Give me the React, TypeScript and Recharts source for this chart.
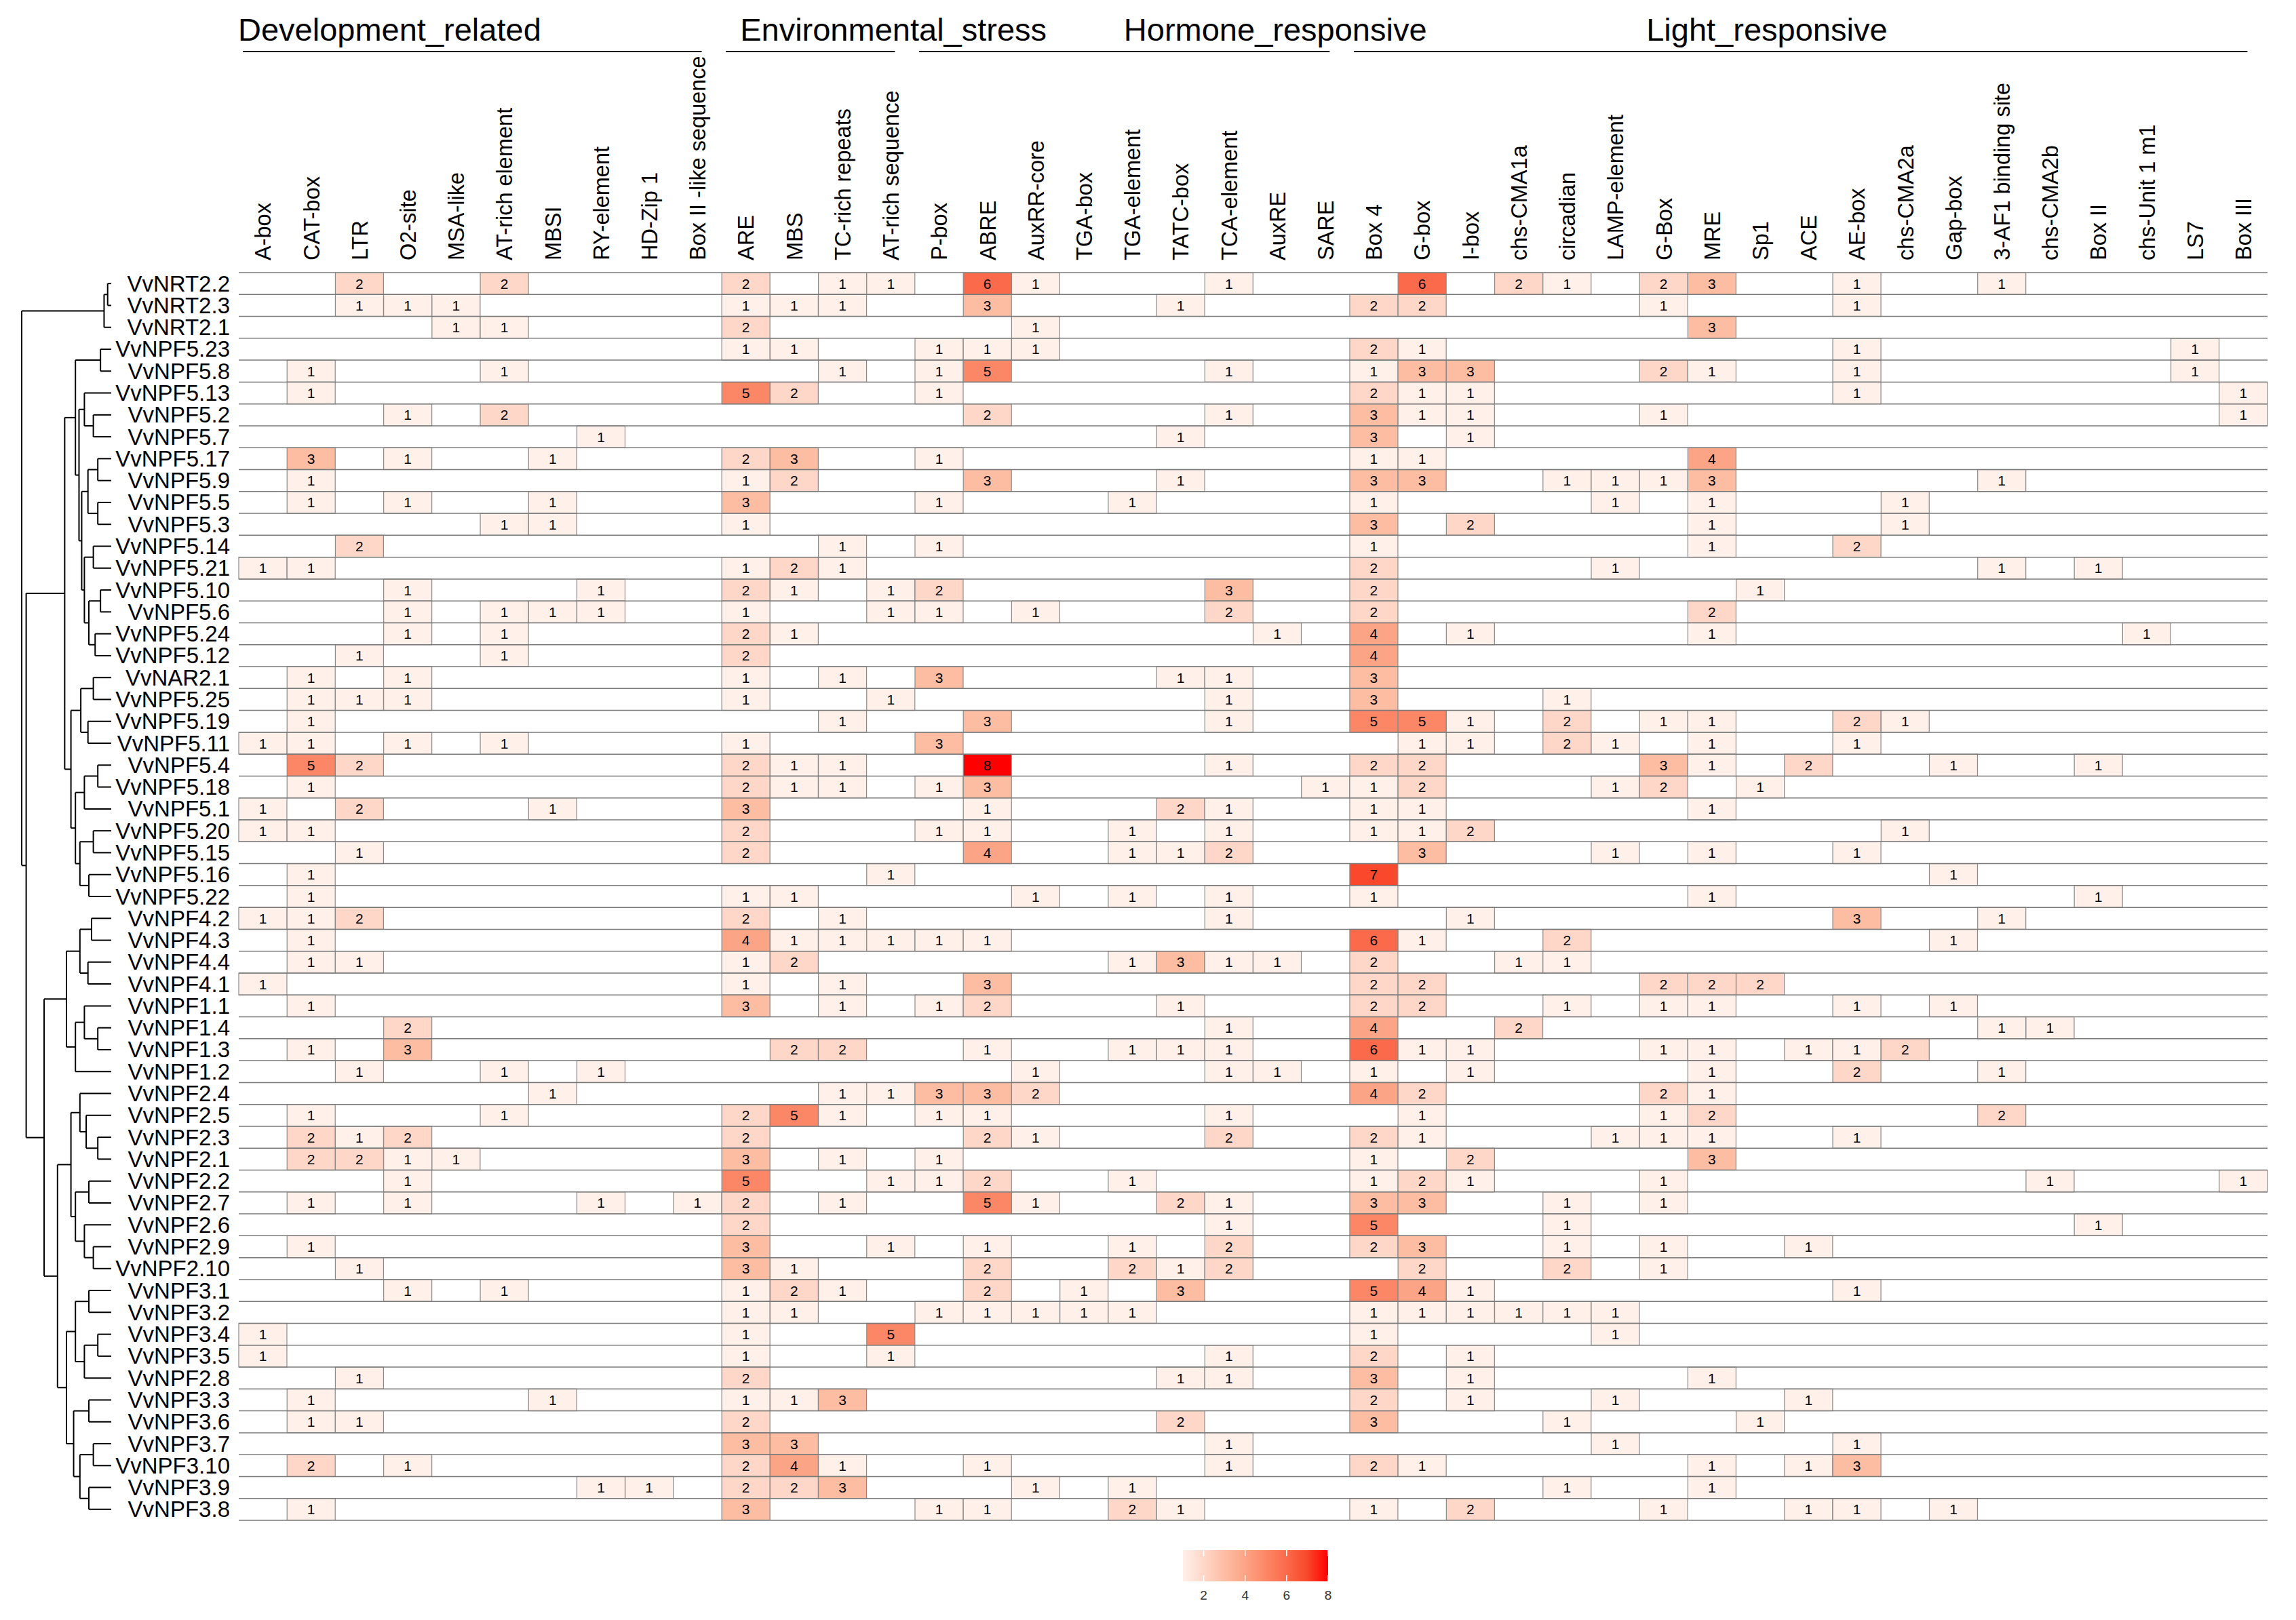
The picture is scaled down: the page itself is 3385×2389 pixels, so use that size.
import React from 'react';
import { BarChart, Bar, XAxis, YAxis, ReferenceLine, Legend, ComposedChart, Scatter } from 'recharts';

const columns = ['A-box', 'CAT-box', 'LTR', 'O2-site', 'MSA-like', 'AT-rich element', 'MBSI', 'RY-element', 'HD-Zip 1', 'Box II -like sequence', 'ARE', 'MBS', 'TC-rich repeats', 'AT-rich sequence', 'P-box', 'ABRE', 'AuxRR-core', 'TGA-box', 'TGA-element', 'TATC-box', 'TCA-element', 'AuxRE', 'SARE', 'Box 4', 'G-box', 'I-box', 'chs-CMA1a', 'circadian', 'LAMP-element', 'G-Box', 'MRE', 'Sp1', 'ACE', 'AE-box', 'chs-CMA2a', 'Gap-box', '3-AF1 binding site', 'chs-CMA2b', 'Box II', 'chs-Unit 1 m1', 'LS7', 'Box III'];

const rows = ['VvNRT2.2', 'VvNRT2.3', 'VvNRT2.1', 'VvNPF5.23', 'VvNPF5.8', 'VvNPF5.13', 'VvNPF5.2', 'VvNPF5.7', 'VvNPF5.17', 'VvNPF5.9', 'VvNPF5.5', 'VvNPF5.3', 'VvNPF5.14', 'VvNPF5.21', 'VvNPF5.10', 'VvNPF5.6', 'VvNPF5.24', 'VvNPF5.12', 'VvNAR2.1', 'VvNPF5.25', 'VvNPF5.19', 'VvNPF5.11', 'VvNPF5.4', 'VvNPF5.18', 'VvNPF5.1', 'VvNPF5.20', 'VvNPF5.15', 'VvNPF5.16', 'VvNPF5.22', 'VvNPF4.2', 'VvNPF4.3', 'VvNPF4.4', 'VvNPF4.1', 'VvNPF1.1', 'VvNPF1.4', 'VvNPF1.3', 'VvNPF1.2', 'VvNPF2.4', 'VvNPF2.5', 'VvNPF2.3', 'VvNPF2.1', 'VvNPF2.2', 'VvNPF2.7', 'VvNPF2.6', 'VvNPF2.9', 'VvNPF2.10', 'VvNPF3.1', 'VvNPF3.2', 'VvNPF3.4', 'VvNPF3.5', 'VvNPF2.8', 'VvNPF3.3', 'VvNPF3.6', 'VvNPF3.7', 'VvNPF3.10', 'VvNPF3.9', 'VvNPF3.8'];

// counts[row][column]
const counts = [
  [0,0,2,0,0,2,0,0,0,0, 2,0,1,1,0,6,1,0,0,0, 1,0,0,0,6,0,2,1,0,2, 3,0,0,1,0,0,1,0,0,0, 0,0],
  [0,0,1,1,1,0,0,0,0,0, 1,1,1,0,0,3,0,0,0,1, 0,0,0,2,2,0,0,0,0,1, 0,0,0,1,0,0,0,0,0,0, 0,0],
  [0,0,0,0,1,1,0,0,0,0, 2,0,0,0,0,0,1,0,0,0, 0,0,0,0,0,0,0,0,0,0, 3,0,0,0,0,0,0,0,0,0, 0,0],
  [0,0,0,0,0,0,0,0,0,0, 1,1,0,0,1,1,1,0,0,0, 0,0,0,2,1,0,0,0,0,0, 0,0,0,1,0,0,0,0,0,0, 1,0],
  [0,1,0,0,0,1,0,0,0,0, 0,0,1,0,1,5,0,0,0,0, 1,0,0,1,3,3,0,0,0,2, 1,0,0,1,0,0,0,0,0,0, 1,0],
  [0,1,0,0,0,0,0,0,0,0, 5,2,0,0,1,0,0,0,0,0, 0,0,0,2,1,1,0,0,0,0, 0,0,0,1,0,0,0,0,0,0, 0,1],
  [0,0,0,1,0,2,0,0,0,0, 0,0,0,0,0,2,0,0,0,0, 1,0,0,3,1,1,0,0,0,1, 0,0,0,0,0,0,0,0,0,0, 0,1],
  [0,0,0,0,0,0,0,1,0,0, 0,0,0,0,0,0,0,0,0,1, 0,0,0,3,0,1,0,0,0,0, 0,0,0,0,0,0,0,0,0,0, 0,0],
  [0,3,0,1,0,0,1,0,0,0, 2,3,0,0,1,0,0,0,0,0, 0,0,0,1,1,0,0,0,0,0, 4,0,0,0,0,0,0,0,0,0, 0,0],
  [0,1,0,0,0,0,0,0,0,0, 1,2,0,0,0,3,0,0,0,1, 0,0,0,3,3,0,0,1,1,1, 3,0,0,0,0,0,1,0,0,0, 0,0],
  [0,1,0,1,0,0,1,0,0,0, 3,0,0,0,1,0,0,0,1,0, 0,0,0,1,0,0,0,0,1,0, 1,0,0,0,1,0,0,0,0,0, 0,0],
  [0,0,0,0,0,1,1,0,0,0, 1,0,0,0,0,0,0,0,0,0, 0,0,0,3,0,2,0,0,0,0, 1,0,0,0,1,0,0,0,0,0, 0,0],
  [0,0,2,0,0,0,0,0,0,0, 0,0,1,0,1,0,0,0,0,0, 0,0,0,1,0,0,0,0,0,0, 1,0,0,2,0,0,0,0,0,0, 0,0],
  [1,1,0,0,0,0,0,0,0,0, 1,2,1,0,0,0,0,0,0,0, 0,0,0,2,0,0,0,0,1,0, 0,0,0,0,0,0,1,0,1,0, 0,0],
  [0,0,0,1,0,0,0,1,0,0, 2,1,0,1,2,0,0,0,0,0, 3,0,0,2,0,0,0,0,0,0, 0,1,0,0,0,0,0,0,0,0, 0,0],
  [0,0,0,1,0,1,1,1,0,0, 1,0,0,1,1,0,1,0,0,0, 2,0,0,2,0,0,0,0,0,0, 2,0,0,0,0,0,0,0,0,0, 0,0],
  [0,0,0,1,0,1,0,0,0,0, 2,1,0,0,0,0,0,0,0,0, 0,1,0,4,0,1,0,0,0,0, 1,0,0,0,0,0,0,0,0,1, 0,0],
  [0,0,1,0,0,1,0,0,0,0, 2,0,0,0,0,0,0,0,0,0, 0,0,0,4,0,0,0,0,0,0, 0,0,0,0,0,0,0,0,0,0, 0,0],
  [0,1,0,1,0,0,0,0,0,0, 1,0,1,0,3,0,0,0,0,1, 1,0,0,3,0,0,0,0,0,0, 0,0,0,0,0,0,0,0,0,0, 0,0],
  [0,1,1,1,0,0,0,0,0,0, 1,0,0,1,0,0,0,0,0,0, 1,0,0,3,0,0,0,1,0,0, 0,0,0,0,0,0,0,0,0,0, 0,0],
  [0,1,0,0,0,0,0,0,0,0, 0,0,1,0,0,3,0,0,0,0, 1,0,0,5,5,1,0,2,0,1, 1,0,0,2,1,0,0,0,0,0, 0,0],
  [1,1,0,1,0,1,0,0,0,0, 1,0,0,0,3,0,0,0,0,0, 0,0,0,0,1,1,0,2,1,0, 1,0,0,1,0,0,0,0,0,0, 0,0],
  [0,5,2,0,0,0,0,0,0,0, 2,1,1,0,0,8,0,0,0,0, 1,0,0,2,2,0,0,0,0,3, 1,0,2,0,0,1,0,0,1,0, 0,0],
  [0,1,0,0,0,0,0,0,0,0, 2,1,1,0,1,3,0,0,0,0, 0,0,1,1,2,0,0,0,1,2, 0,1,0,0,0,0,0,0,0,0, 0,0],
  [1,0,2,0,0,0,1,0,0,0, 3,0,0,0,0,1,0,0,0,2, 1,0,0,1,1,0,0,0,0,0, 1,0,0,0,0,0,0,0,0,0, 0,0],
  [1,1,0,0,0,0,0,0,0,0, 2,0,0,0,1,1,0,0,1,0, 1,0,0,1,1,2,0,0,0,0, 0,0,0,0,1,0,0,0,0,0, 0,0],
  [0,0,1,0,0,0,0,0,0,0, 2,0,0,0,0,4,0,0,1,1, 2,0,0,0,3,0,0,0,1,0, 1,0,0,1,0,0,0,0,0,0, 0,0],
  [0,1,0,0,0,0,0,0,0,0, 0,0,0,1,0,0,0,0,0,0, 0,0,0,7,0,0,0,0,0,0, 0,0,0,0,0,1,0,0,0,0, 0,0],
  [0,1,0,0,0,0,0,0,0,0, 1,1,0,0,0,0,1,0,1,0, 1,0,0,1,0,0,0,0,0,0, 1,0,0,0,0,0,0,0,1,0, 0,0],
  [1,1,2,0,0,0,0,0,0,0, 2,0,1,0,0,0,0,0,0,0, 1,0,0,0,0,1,0,0,0,0, 0,0,0,3,0,0,1,0,0,0, 0,0],
  [0,1,0,0,0,0,0,0,0,0, 4,1,1,1,1,1,0,0,0,0, 0,0,0,6,1,0,0,2,0,0, 0,0,0,0,0,1,0,0,0,0, 0,0],
  [0,1,1,0,0,0,0,0,0,0, 1,2,0,0,0,0,0,0,1,3, 1,1,0,2,0,0,1,1,0,0, 0,0,0,0,0,0,0,0,0,0, 0,0],
  [1,0,0,0,0,0,0,0,0,0, 1,0,1,0,0,3,0,0,0,0, 0,0,0,2,2,0,0,0,0,2, 2,2,0,0,0,0,0,0,0,0, 0,0],
  [0,1,0,0,0,0,0,0,0,0, 3,0,1,0,1,2,0,0,0,1, 0,0,0,2,2,0,0,1,0,1, 1,0,0,1,0,1,0,0,0,0, 0,0],
  [0,0,0,2,0,0,0,0,0,0, 0,0,0,0,0,0,0,0,0,0, 1,0,0,4,0,0,2,0,0,0, 0,0,0,0,0,0,1,1,0,0, 0,0],
  [0,1,0,3,0,0,0,0,0,0, 0,2,2,0,0,1,0,0,1,1, 1,0,0,6,1,1,0,0,0,1, 1,0,1,1,2,0,0,0,0,0, 0,0],
  [0,0,1,0,0,1,0,1,0,0, 0,0,0,0,0,0,1,0,0,0, 1,1,0,1,0,1,0,0,0,0, 1,0,0,2,0,0,1,0,0,0, 0,0],
  [0,0,0,0,0,0,1,0,0,0, 0,0,1,1,3,3,2,0,0,0, 0,0,0,4,2,0,0,0,0,2, 1,0,0,0,0,0,0,0,0,0, 0,0],
  [0,1,0,0,0,1,0,0,0,0, 2,5,1,0,1,1,0,0,0,0, 1,0,0,0,1,0,0,0,0,1, 2,0,0,0,0,0,2,0,0,0, 0,0],
  [0,2,1,2,0,0,0,0,0,0, 2,0,0,0,0,2,1,0,0,0, 2,0,0,2,1,0,0,0,1,1, 1,0,0,1,0,0,0,0,0,0, 0,0],
  [0,2,2,1,1,0,0,0,0,0, 3,0,1,0,1,0,0,0,0,0, 0,0,0,1,0,2,0,0,0,0, 3,0,0,0,0,0,0,0,0,0, 0,0],
  [0,0,0,1,0,0,0,0,0,0, 5,0,0,1,1,2,0,0,1,0, 0,0,0,1,2,1,0,0,0,1, 0,0,0,0,0,0,0,1,0,0, 0,1],
  [0,1,0,1,0,0,0,1,0,1, 2,0,1,0,0,5,1,0,0,2, 1,0,0,3,3,0,0,1,0,1, 0,0,0,0,0,0,0,0,0,0, 0,0],
  [0,0,0,0,0,0,0,0,0,0, 2,0,0,0,0,0,0,0,0,0, 1,0,0,5,0,0,0,1,0,0, 0,0,0,0,0,0,0,0,1,0, 0,0],
  [0,1,0,0,0,0,0,0,0,0, 3,0,0,1,0,1,0,0,1,0, 2,0,0,2,3,0,0,1,0,1, 0,0,1,0,0,0,0,0,0,0, 0,0],
  [0,0,1,0,0,0,0,0,0,0, 3,1,0,0,0,2,0,0,2,1, 2,0,0,0,2,0,0,2,0,1, 0,0,0,0,0,0,0,0,0,0, 0,0],
  [0,0,0,1,0,1,0,0,0,0, 1,2,1,0,0,2,0,1,0,3, 0,0,0,5,4,1,0,0,0,0, 0,0,0,1,0,0,0,0,0,0, 0,0],
  [0,0,0,0,0,0,0,0,0,0, 1,1,0,0,1,1,1,1,1,0, 0,0,0,1,1,1,1,1,1,0, 0,0,0,0,0,0,0,0,0,0, 0,0],
  [1,0,0,0,0,0,0,0,0,0, 1,0,0,5,0,0,0,0,0,0, 0,0,0,1,0,0,0,0,1,0, 0,0,0,0,0,0,0,0,0,0, 0,0],
  [1,0,0,0,0,0,0,0,0,0, 1,0,0,1,0,0,0,0,0,0, 1,0,0,2,0,1,0,0,0,0, 0,0,0,0,0,0,0,0,0,0, 0,0],
  [0,0,1,0,0,0,0,0,0,0, 2,0,0,0,0,0,0,0,0,1, 1,0,0,3,0,1,0,0,0,0, 1,0,0,0,0,0,0,0,0,0, 0,0],
  [0,1,0,0,0,0,1,0,0,0, 1,1,3,0,0,0,0,0,0,0, 0,0,0,2,0,1,0,0,1,0, 0,0,1,0,0,0,0,0,0,0, 0,0],
  [0,1,1,0,0,0,0,0,0,0, 2,0,0,0,0,0,0,0,0,2, 0,0,0,3,0,0,0,1,0,0, 0,1,0,0,0,0,0,0,0,0, 0,0],
  [0,0,0,0,0,0,0,0,0,0, 3,3,0,0,0,0,0,0,0,0, 1,0,0,0,0,0,0,0,1,0, 0,0,0,1,0,0,0,0,0,0, 0,0],
  [0,2,0,1,0,0,0,0,0,0, 2,4,1,0,0,1,0,0,0,0, 1,0,0,2,1,0,0,0,0,0, 1,0,1,3,0,0,0,0,0,0, 0,0],
  [0,0,0,0,0,0,0,1,1,0, 2,2,3,0,0,0,1,0,1,0, 0,0,0,0,0,0,0,1,0,0, 1,0,0,0,0,0,0,0,0,0, 0,0],
  [0,1,0,0,0,0,0,0,0,0, 3,0,0,0,1,1,0,0,2,1, 0,0,0,1,0,2,0,0,0,1, 0,0,1,1,0,1,0,0,0,0, 0,0],
];

const groups = [
  { name: 'Development_related', from: 'A-box', to: 'Box II -like sequence', labelAt: 'A-box' },
  { name: 'Environmental_stress', from: 'ARE', to: 'AT-rich sequence', labelAt: 'ARE' },
  { name: 'Hormone_responsive', from: 'P-box', to: 'SARE', labelAt: 'TGA-element' },
  { name: 'Light_responsive', from: 'Box 4', to: 'Box III', labelAt: 'G-Box' },
];
// horizontal nudge (px) of each group title from the left edge of its labelAt column
const titleNudge: Record<string, number> = { Development_related: -1, Environmental_stress: 27, Hormone_responsive: 23, Light_responsive: 10 };

// colour of each count value 1..8
const palette = ['#fff0ea', '#fed7c8', '#fdbda3', '#fca486', '#fc8766', '#fb6a4a', '#f9482b', '#ff0000'];
const legendTicks = [2, 4, 6, 8];

// dendrogram: [height, left, right], leaves are row indices
const tree: any = [1.0,
  [0.08, [0.04, 0, 1], 2],
  [0.95,
    [0.52,
      [0.4, [0.12, 3, 4], [0.36, [0.3, 5, [0.2, 6, 7]], [0.33, [0.26, [0.15, 8, 9], [0.15, 10, 11]], [0.3, [0.2, 12, 13], [0.25, [0.12, 14, 15], [0.18, 16, 17]]]]]],
      [0.45, [0.34, [0.2, 18, 19], [0.26, 20, 21]], [0.4, [0.3, [0.15, 22, 23], 24], [0.35, [0.2, 25, 26], [0.25, 27, 28]]]]],
    [0.75,
      [0.5, [0.35, [0.22, 29, 30], [0.26, 31, 32]], [0.4, [0.3, 33, [0.15, 34, 35]], 36]],
      [0.6, [0.45, [0.35, 37, [0.28, 38, [0.15, 39, 40]]], [0.4, [0.25, 41, 42], [0.3, 43, [0.2, 44, 45]]]],
        [0.5, [0.4, [0.25, 46, 47], [0.3, [0.15, 48, 49], 50]], [0.42, [0.25, 51, 52], [0.35, [0.2, 53, 54], [0.25, 55, 56]]]]]]]];

const FONT = '"Liberation Sans", Arial, Helvetica, sans-serif';
const W = 3385;
const H = 2389;
const M = { top: 82, right: 42, bottom: 147, left: 12 };
const XAXIS_H = 320;
const YAXIS_W = 340;
const PLOT_W = W - M.left - M.right - YAXIS_W;
const BW = PLOT_W / columns.length;

const colorOf = (v: number) => palette[Math.max(1, Math.min(8, v)) - 1];

const table = columns.map((c, j) => {
  const o: any = { col: c };
  rows.forEach((_, i) => {
    o['r' + i] = 1;
    o['v' + i] = counts[i][j];
  });
  return o;
});

function treeSegments(node: any, out: any[]): { h: number; y: number } {
  if (typeof node === 'number') return { h: 0, y: node + 0.5 };
  const [h, l, r] = node;
  const a = treeSegments(l, out);
  const b = treeSegments(r, out);
  out.push({ x1: h, y1: a.y, x2: h, y2: b.y });
  out.push({ x1: h, y1: a.y, x2: a.h, y2: a.y });
  out.push({ x1: h, y1: b.y, x2: b.h, y2: b.y });
  return { h, y: (a.y + b.y) / 2 };
}
const segments: any[] = [];
treeSegments(tree, segments);
const leaves = rows.map((r, i) => ({ h: 0, y: i + 0.5, name: r }));

function ColumnTick(props: any) {
  const { x, y, payload } = props;
  const name = payload.value;
  const idx = columns.indexOf(name);
  const g = groups.find((gr) => gr.from === name);
  let header = null;
  if (g) {
    const toIdx = columns.indexOf(g.to);
    const labIdx = columns.indexOf(g.labelAt);
    const left = x - BW / 2;
    header = (
      <g>
        <line x1={left + 6} x2={x + (toIdx - idx) * BW + 6} y1={76} y2={76} stroke="#000" strokeWidth={2} />
        <text x={left + (labIdx - idx) * BW + titleNudge[g.name]} y={60} fontSize={47} fontFamily={FONT} fill="#000">{g.name}</text>
      </g>
    );
  }
  return (
    <g>
      {header}
      <text transform={`translate(${x},${y}) rotate(-90)`} dy="0.36em" textAnchor="start" fontSize={32.5} fontFamily={FONT} fill="#000">{name}</text>
    </g>
  );
}

function RowTick(props: any) {
  const { x, y, payload } = props;
  const i = Math.round(payload.value - 0.5);
  return (
    <text x={x} y={y} textAnchor="end" dominantBaseline="central" fontSize={33} fontFamily={FONT} fill="#000">{rows[i]}</text>
  );
}

function makeShape(i: number) {
  return (p: any) => {
    const v = p.payload ? p.payload['v' + i] : 0;
    if (!v) return <g />;
    const y0 = Math.min(p.y, p.y + p.height);
    const h = Math.abs(p.height);
    return (
      <g>
        <rect x={p.x} y={y0} width={p.width} height={h} fill={colorOf(v)} stroke="#8a8a8a" strokeWidth={1.2} />
        <text x={p.x + p.width / 2} y={y0 + h / 2} textAnchor="middle" dominantBaseline="central" fontSize={21} fontFamily={FONT} fill="#000">{v}</text>
      </g>
    );
  };
}

function ColorBar() {
  const x0 = 44;
  const w = 214;
  const y0 = 24;
  const bh = 46;
  const pos = (v: number) => x0 + ((v - 1) / 7) * w;
  return (
    <svg width={320} height={110} style={{ overflow: 'visible' }}>
      <defs>
        <linearGradient id="cbar" x1="0" x2="1" y1="0" y2="0">
          {palette.map((c, k) => (
            <stop key={k} offset={`${(k / 7) * 100}%`} stopColor={c} />
          ))}
        </linearGradient>
      </defs>
      <rect x={x0} y={y0} width={w} height={bh} fill="url(#cbar)" />
      {legendTicks.map((t) => (
        <g key={t}>
          <line x1={pos(t)} x2={pos(t)} y1={y0} y2={y0 + 9} stroke="#fff" strokeWidth={1.5} />
          <line x1={pos(t)} x2={pos(t)} y1={y0 + bh - 9} y2={y0 + bh} stroke="#fff" strokeWidth={1.5} />
          <text x={pos(t)} y={y0 + bh + 20} textAnchor="middle" dominantBaseline="central" fontSize={19} fontFamily={FONT} fill="#333">{t}</text>
        </g>
      ))}
    </svg>
  );
}

export default function App() {
  const rowTicks = rows.map((_, i) => i + 0.5);
  const boundaries = rows.map((_, i) => i).concat([rows.length]);
  return (
    <div style={{ position: 'absolute', left: 0, top: 0, width: W, height: H, background: '#fff', fontFamily: FONT }}>
      <div style={{ position: 'absolute', left: 0, top: 0 }}>
        <BarChart width={W} height={H} data={table} margin={M} barCategoryGap={0} barGap={0}>
          <XAxis
            dataKey="col"
            type="category"
            orientation="top"
            height={XAXIS_H}
            interval={0}
            axisLine={false}
            tickLine={false}
            tickSize={0}
            tickMargin={18}
            tick={<ColumnTick />}
          />
          <YAxis
            type="number"
            domain={[0, rows.length]}
            reversed
            ticks={rowTicks}
            interval={0}
            width={YAXIS_W}
            axisLine={false}
            tickLine={false}
            tickSize={0}
            tickMargin={13}
            tick={<RowTick />}
            allowDataOverflow
          />
          {rows.map((r, i) => (
            <Bar key={r} dataKey={'r' + i} stackId="s" isAnimationActive={false} shape={makeShape(i)} />
          ))}
          {boundaries.map((b) => (
            <ReferenceLine key={'b' + b} y={b} stroke="#7a7a7a" strokeWidth={1.5} ifOverflow="visible" />
          ))}
          <Legend
            layout="horizontal"
            verticalAlign="middle"
            align="center"
            wrapperStyle={{ position: 'absolute', left: 1700, top: 2262, width: 320, height: 110 }}
            content={() => <ColorBar />}
          />
        </BarChart>
      </div>
      <div style={{ position: 'absolute', left: 0, top: 0 }}>
        <ComposedChart width={200} height={H} data={leaves} margin={{ top: M.top + XAXIS_H, bottom: M.bottom, left: 32, right: 36 }}>
          <XAxis type="number" dataKey="h" domain={[0, 1]} reversed hide />
          <YAxis type="number" dataKey="y" domain={[0, rows.length]} reversed hide />
          <Scatter data={leaves} dataKey="y" isAnimationActive={false} shape={() => <g />} />
          {segments.map((s, k) => (
            <ReferenceLine
              key={k}
              segment={[{ x: s.x1, y: s.y1 }, { x: s.x2, y: s.y2 }]}
              stroke="#000"
              strokeWidth={2}
              ifOverflow="visible"
            />
          ))}
        </ComposedChart>
      </div>
    </div>
  );
}
